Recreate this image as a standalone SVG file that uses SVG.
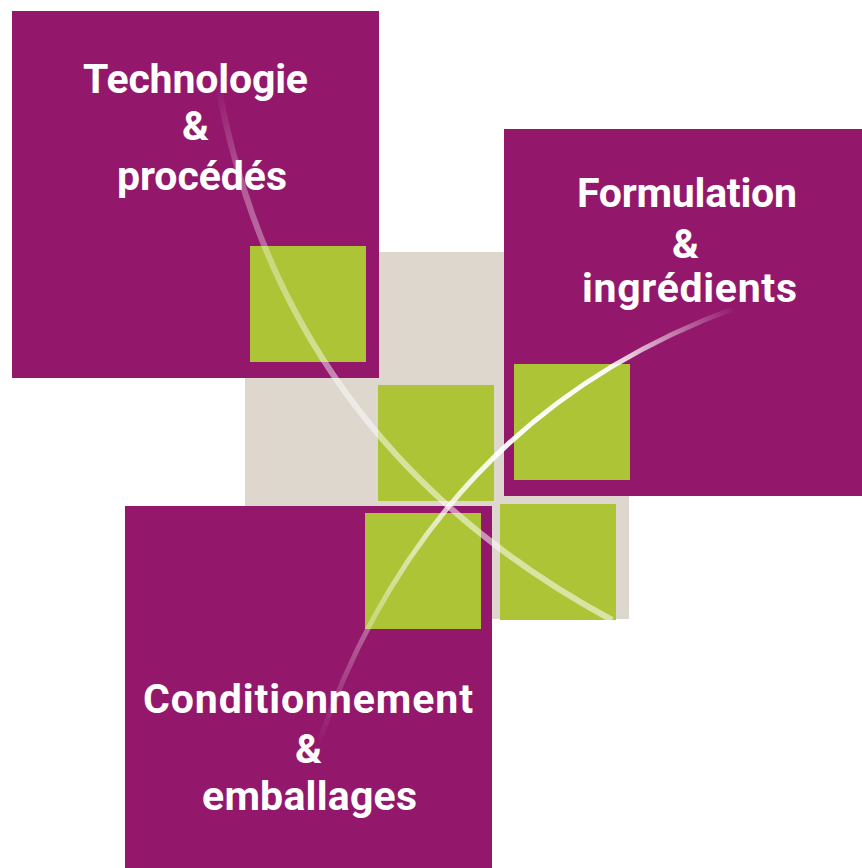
<svg xmlns="http://www.w3.org/2000/svg" width="862" height="868" viewBox="0 0 862 868">
  <style>
    .purple { fill: #93186C; }
    .green { fill: #ACC436; }
    .beige { fill: #DDD7CE; }
    .label { fill: #FFFFFF; font-family: Roboto, "Liberation Sans", sans-serif; font-weight: bold; font-size: 41px; }
  </style>
  <defs>
    <linearGradient id="g1" gradientUnits="userSpaceOnUse" x1="218" y1="85" x2="612" y2="620">
      <stop offset="0" stop-color="#FFFFFF" stop-opacity="0"/>
      <stop offset="0.15" stop-color="#FFFFFF" stop-opacity="0.3"/>
      <stop offset="0.5" stop-color="#FFFFFF" stop-opacity="0.5"/>
      <stop offset="1" stop-color="#FFFFFF" stop-opacity="0.55"/>
    </linearGradient>
    <linearGradient id="g2" gradientUnits="userSpaceOnUse" x1="735" y1="308" x2="318" y2="745">
      <stop offset="0" stop-color="#FFFFFF" stop-opacity="0"/>
      <stop offset="0.22" stop-color="#FFFFFF" stop-opacity="0.95"/>
      <stop offset="0.45" stop-color="#FFFFFF" stop-opacity="0.95"/>
      <stop offset="0.7" stop-color="#FFFFFF" stop-opacity="0.5"/>
      <stop offset="1" stop-color="#FFFFFF" stop-opacity="0"/>
    </linearGradient>
  </defs>

  <g id="background">
    <rect class="beige" x="245" y="252" width="384" height="367"/>
  </g>

  <g id="node-technologie">
    <rect class="purple" x="12" y="11" width="367" height="367"/>
    <text class="label" x="83" y="93" textLength="225" lengthAdjust="spacing">Technologie</text>
    <text class="label" x="182" y="140">&amp;</text>
    <text class="label" x="117" y="190" textLength="170" lengthAdjust="spacing">procédés</text>
  </g>

  <g id="node-formulation">
    <rect class="purple" x="504" y="129" width="358" height="367"/>
    <text class="label" x="577" y="207" textLength="220" lengthAdjust="spacing">Formulation</text>
    <text class="label" x="672" y="258">&amp;</text>
    <text class="label" x="582" y="302" textLength="215" lengthAdjust="spacing">ingrédients</text>
  </g>

  <g id="node-conditionnement">
    <rect class="purple" x="125" y="506" width="367" height="362"/>
    <text class="label" x="143" y="713" textLength="330" lengthAdjust="spacing">Conditionnement</text>
    <text class="label" x="295" y="763">&amp;</text>
    <text class="label" x="202" y="810" textLength="215" lengthAdjust="spacing">emballages</text>
  </g>

  <g id="green-squares">
    <rect class="green" x="250" y="246" width="116" height="116"/>
    <rect class="green" x="378" y="385" width="116" height="116"/>
    <rect class="green" x="514" y="364" width="116" height="116"/>
    <rect class="green" x="365" y="513" width="116" height="116"/>
    <rect class="green" x="500" y="504" width="116" height="116"/>
  </g>

  <g id="connectors" fill="none">
    <path d="M218,85 Q283,442 612,620" stroke="url(#g1)" stroke-width="6"/>
    <path d="M735,308 Q430,420 318,745" stroke="url(#g2)" stroke-width="5"/>
  </g>
</svg>
